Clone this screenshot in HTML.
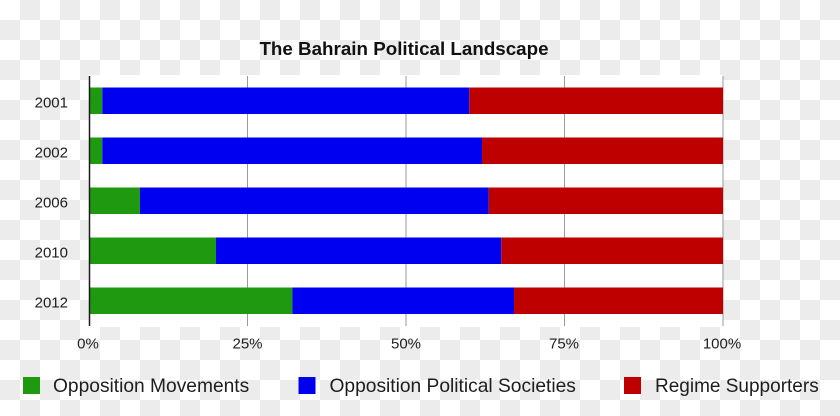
<!DOCTYPE html>
<html>
<head>
<meta charset="utf-8">
<style>
  html, body { margin: 0; padding: 0; }
  body { width: 840px; height: 416px; overflow: hidden; }
  svg { display: block; }
  text { font-family: "Liberation Sans", Arial, sans-serif; fill: #1e1e1e; }
</style>
</head>
<body>
<svg width="840" height="416" viewBox="0 0 840 416" xmlns="http://www.w3.org/2000/svg">
  <defs>
    <pattern id="chk" x="0" y="0" width="40" height="40" patternUnits="userSpaceOnUse">
      <rect x="0" y="0" width="40" height="40" fill="#ffffff"/>
      <rect x="20" y="0" width="20" height="20" fill="#ececec"/>
      <rect x="0" y="20" width="20" height="20" fill="#ececec"/>
    </pattern>
  </defs>
  <rect x="0" y="0" width="840" height="416" fill="url(#chk)"/>

  <!-- plot area -->
  <rect x="89" y="75" width="634" height="252" fill="#ffffff"/>

  <!-- gridlines -->
  <g stroke="#9a9a9a" stroke-width="1">
    <line x1="247.5" y1="76" x2="247.5" y2="326"/>
    <line x1="406" y1="76" x2="406" y2="326"/>
    <line x1="564.5" y1="76" x2="564.5" y2="326"/>
    <line x1="723" y1="76" x2="723" y2="326"/>
  </g>

  <!-- bars -->
  <g>
    <!-- 2001 -->
    <rect x="89" y="87.5" width="13.3" height="26.5" fill="#1f9a10"/>
    <rect x="102.3" y="87.5" width="367" height="26.5" fill="#0000f0"/>
    <rect x="469.3" y="87.5" width="253.7" height="26.5" fill="#be0000"/>
    <!-- 2002 -->
    <rect x="89" y="137.5" width="13.3" height="26.5" fill="#1f9a10"/>
    <rect x="102.3" y="137.5" width="379.7" height="26.5" fill="#0000f0"/>
    <rect x="482" y="137.5" width="241" height="26.5" fill="#be0000"/>
    <!-- 2006 -->
    <rect x="89" y="187.5" width="51" height="26.5" fill="#1f9a10"/>
    <rect x="140" y="187.5" width="348.7" height="26.5" fill="#0000f0"/>
    <rect x="488.7" y="187.5" width="234.3" height="26.5" fill="#be0000"/>
    <!-- 2010 -->
    <rect x="89" y="237.5" width="127" height="26.5" fill="#1f9a10"/>
    <rect x="216" y="237.5" width="285.3" height="26.5" fill="#0000f0"/>
    <rect x="501.3" y="237.5" width="221.7" height="26.5" fill="#be0000"/>
    <!-- 2012 -->
    <rect x="89" y="287.5" width="203.3" height="26.5" fill="#1f9a10"/>
    <rect x="292.3" y="287.5" width="221.7" height="26.5" fill="#0000f0"/>
    <rect x="514" y="287.5" width="209" height="26.5" fill="#be0000"/>
  </g>

  <!-- axis -->
  <line x1="89.5" y1="76" x2="89.5" y2="326" stroke="#1a1a1a" stroke-width="1.5"/>

  <!-- title -->
  <text x="404" y="55" font-size="18.8" font-weight="bold" text-anchor="middle" style="fill:#111">The Bahrain Political Landscape</text>

  <!-- year labels -->
  <g font-size="15" text-anchor="end">
    <text x="68" y="107.5">2001</text>
    <text x="68" y="157.5">2002</text>
    <text x="68" y="207.5">2006</text>
    <text x="68" y="257.5">2010</text>
    <text x="68" y="307.5">2012</text>
  </g>

  <!-- tick labels -->
  <g font-size="15" text-anchor="middle">
    <text x="88" y="348.5">0%</text>
    <text x="247.5" y="348.5">25%</text>
    <text x="406" y="348.5">50%</text>
    <text x="564" y="348.5">75%</text>
    <text x="722" y="348.5">100%</text>
  </g>

  <!-- legend -->
  <rect x="23" y="377" width="17" height="17" fill="#1f9a10"/>
  <text x="53" y="392" font-size="19.2">Opposition Movements</text>
  <rect x="298.5" y="377" width="17" height="17" fill="#0000f0"/>
  <text x="329.5" y="392" font-size="19.2">Opposition Political Societies</text>
  <rect x="624" y="377" width="17" height="17" fill="#be0000"/>
  <text x="655" y="392" font-size="19">Regime Supporters</text>
</svg>
</body>
</html>
